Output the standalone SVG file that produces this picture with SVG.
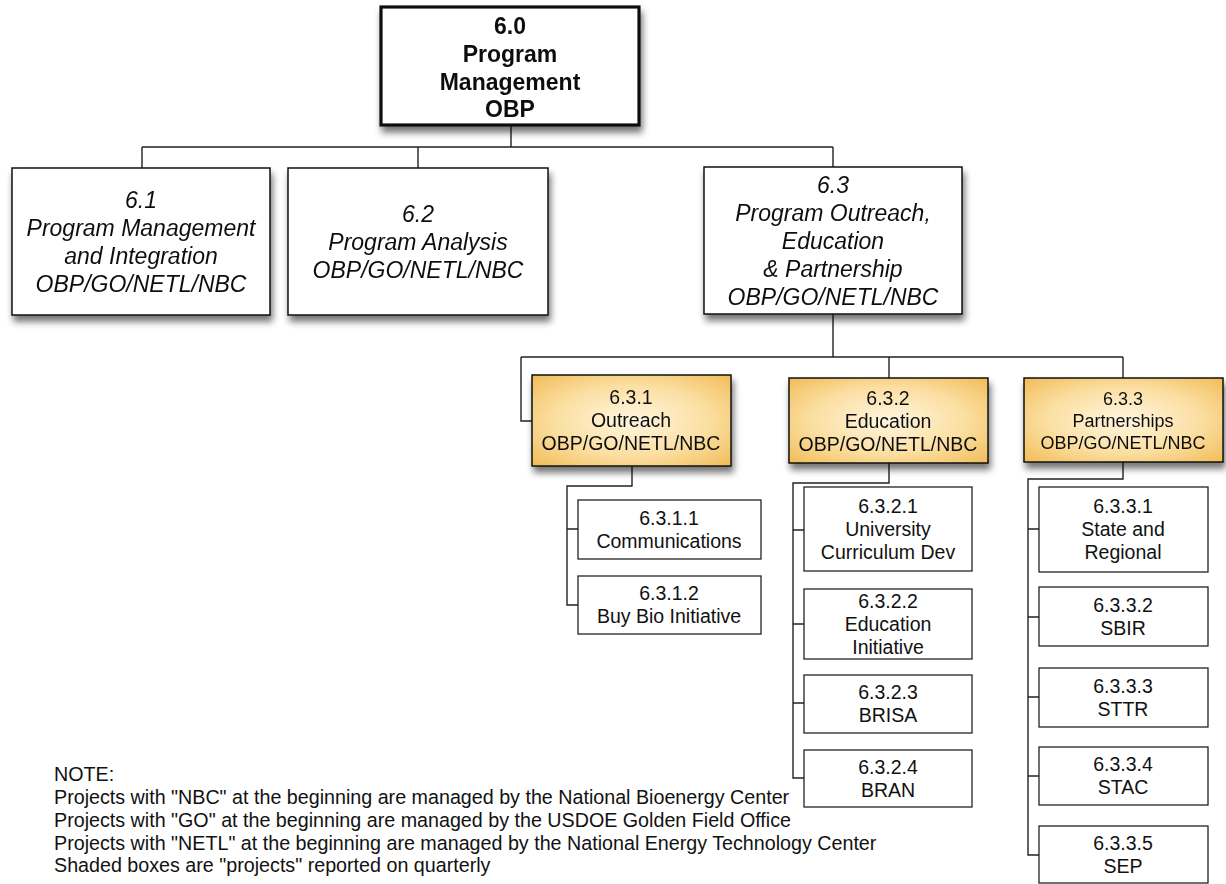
<svg xmlns="http://www.w3.org/2000/svg" width="1226" height="884" viewBox="0 0 1226 884">
<style>
.box{fill:#fff;stroke:#111;stroke-width:1.5}
.top{fill:#fff;stroke:#111;stroke-width:3.2}
.proj{fill:url(#gold);stroke:#111;stroke-width:1.5}
.leaf{fill:#fff;stroke:#222;stroke-width:1.3}
.conn{fill:none;stroke:#222;stroke-width:1.4}
text{font-family:"Liberation Sans",Arial,Helvetica,sans-serif;fill:#111;text-anchor:middle}
.b{font-weight:bold;font-size:23px}
.i{font-style:italic;font-size:23px}
.p{font-size:19.5px}
.p3{font-size:18px}
.l{font-size:19.5px}
.n{font-size:19.7px;text-anchor:start}
</style>
<defs>
<radialGradient id="gold" cx="50%" cy="50%" r="70%">
<stop offset="0" stop-color="#fff6e0"/>
<stop offset="0.55" stop-color="#fbdfa2"/>
<stop offset="1" stop-color="#f1bc58"/>
</radialGradient>
<filter id="sh" x="-10%" y="-10%" width="130%" height="140%">
<feGaussianBlur in="SourceAlpha" stdDeviation="3.5"/>
<feOffset dx="2" dy="6" result="b"/>
<feComponentTransfer><feFuncA type="linear" slope="0.55"/></feComponentTransfer>
<feMerge><feMergeNode/><feMergeNode in="SourceGraphic"/></feMerge>
</filter>
</defs>
<rect width="1226" height="884" fill="#fff"/>
<g id="connectors">
<path class="conn" d="M511 125V147M142 147H833M142 147V168M418 147V168M833 147V167"/>
<path class="conn" d="M833 314V357M521 357H1123M521 357V421H532M889 357V378M1123 357V378"/>
<path class="conn" d="M632 466V486H567V605H578M567 529H578"/>
<path class="conn" d="M889 463V483H793V778H804M793 530H804M793 624H804M793 703H804"/>
<path class="conn" d="M1123 462V479H1028V855H1039M1028 529H1039M1028 617H1039M1028 697H1039M1028 776H1039"/>
</g>
<g id="n6_0" filter="url(#sh)">
<rect class="top" x="381" y="7" width="258" height="118"/>
<text class="b" x="510" y="34">6.0</text>
<text class="b" x="510" y="62">Program</text>
<text class="b" x="510" y="90">Management</text>
<text class="b" x="510" y="117">OBP</text>
</g>
<g id="n6_1" filter="url(#sh)">
<rect class="box" x="12" y="168" width="258" height="147"/>
<text class="i" x="141" y="208">6.1</text>
<text class="i" x="141" y="236">Program Management</text>
<text class="i" x="141" y="264">and Integration</text>
<text class="i" x="141" y="292">OBP/GO/NETL/NBC</text>
</g>
<g id="n6_2" filter="url(#sh)">
<rect class="box" x="288" y="168" width="260" height="147"/>
<text class="i" x="418" y="222">6.2</text>
<text class="i" x="418" y="250">Program Analysis</text>
<text class="i" x="418" y="278">OBP/GO/NETL/NBC</text>
</g>
<g id="n6_3" filter="url(#sh)">
<rect class="box" x="704" y="167" width="258" height="147"/>
<text class="i" x="833" y="193">6.3</text>
<text class="i" x="833" y="221">Program Outreach,</text>
<text class="i" x="833" y="249">Education</text>
<text class="i" x="833" y="277">&amp; Partnership</text>
<text class="i" x="833" y="305">OBP/GO/NETL/NBC</text>
</g>
<g id="n6_3_1" filter="url(#sh)">
<rect class="proj" x="532" y="375" width="199" height="91"/>
<text class="p" x="631" y="404">6.3.1</text>
<text class="p" x="631" y="427">Outreach</text>
<text class="p" x="631" y="450">OBP/GO/NETL/NBC</text>
</g>
<g id="n6_3_2" filter="url(#sh)">
<rect class="proj" x="789" y="378" width="199" height="85"/>
<text class="p" x="888" y="405">6.3.2</text>
<text class="p" x="888" y="428">Education</text>
<text class="p" x="888" y="451">OBP/GO/NETL/NBC</text>
</g>
<g id="n6_3_3" filter="url(#sh)">
<rect class="proj" x="1024" y="378" width="199" height="84"/>
<text class="p3" x="1123" y="405">6.3.3</text>
<text class="p3" x="1123" y="427">Partnerships</text>
<text class="p3" x="1123" y="449">OBP/GO/NETL/NBC</text>
</g>
<g id="n6_3_1_1">
<rect class="leaf" x="578" y="500" width="183" height="59"/>
<text class="l" x="669" y="525">6.3.1.1</text>
<text class="l" x="669" y="548">Communications</text>
</g>
<g id="n6_3_1_2">
<rect class="leaf" x="578" y="576" width="183" height="58"/>
<text class="l" x="669" y="600">6.3.1.2</text>
<text class="l" x="669" y="623">Buy Bio Initiative</text>
</g>
<g id="n6_3_2_1">
<rect class="leaf" x="804" y="487" width="168" height="84"/>
<text class="l" x="888" y="513">6.3.2.1</text>
<text class="l" x="888" y="536">University</text>
<text class="l" x="888" y="559">Curriculum Dev</text>
</g>
<g id="n6_3_2_2">
<rect class="leaf" x="804" y="589" width="168" height="70"/>
<text class="l" x="888" y="608">6.3.2.2</text>
<text class="l" x="888" y="631">Education</text>
<text class="l" x="888" y="654">Initiative</text>
</g>
<g id="n6_3_2_3">
<rect class="leaf" x="804" y="675" width="168" height="58"/>
<text class="l" x="888" y="699">6.3.2.3</text>
<text class="l" x="888" y="722">BRISA</text>
</g>
<g id="n6_3_2_4">
<rect class="leaf" x="804" y="750" width="168" height="57"/>
<text class="l" x="888" y="774">6.3.2.4</text>
<text class="l" x="888" y="797">BRAN</text>
</g>
<g id="n6_3_3_1">
<rect class="leaf" x="1039" y="487" width="169" height="85"/>
<text class="l" x="1123" y="513">6.3.3.1</text>
<text class="l" x="1123" y="536">State and</text>
<text class="l" x="1123" y="559">Regional</text>
</g>
<g id="n6_3_3_2">
<rect class="leaf" x="1039" y="587" width="169" height="59"/>
<text class="l" x="1123" y="612">6.3.3.2</text>
<text class="l" x="1123" y="635">SBIR</text>
</g>
<g id="n6_3_3_3">
<rect class="leaf" x="1039" y="668" width="169" height="59"/>
<text class="l" x="1123" y="693">6.3.3.3</text>
<text class="l" x="1123" y="716">STTR</text>
</g>
<g id="n6_3_3_4">
<rect class="leaf" x="1039" y="747" width="169" height="58"/>
<text class="l" x="1123" y="771">6.3.3.4</text>
<text class="l" x="1123" y="794">STAC</text>
</g>
<g id="n6_3_3_5">
<rect class="leaf" x="1039" y="826" width="169" height="57"/>
<text class="l" x="1123" y="850">6.3.3.5</text>
<text class="l" x="1123" y="873">SEP</text>
</g>
<g id="note">
<text class="n" x="54" y="781">NOTE:</text>
<text class="n" x="54" y="804">Projects with "NBC" at the beginning are managed by the National Bioenergy Center</text>
<text class="n" x="54" y="827">Projects with "GO" at the beginning are managed by the USDOE Golden Field Office</text>
<text class="n" x="54" y="850">Projects with "NETL" at the beginning are managed by the National Energy Technology Center</text>
<text class="n" x="54" y="872">Shaded boxes are "projects" reported on quarterly</text>
</g>
</svg>
